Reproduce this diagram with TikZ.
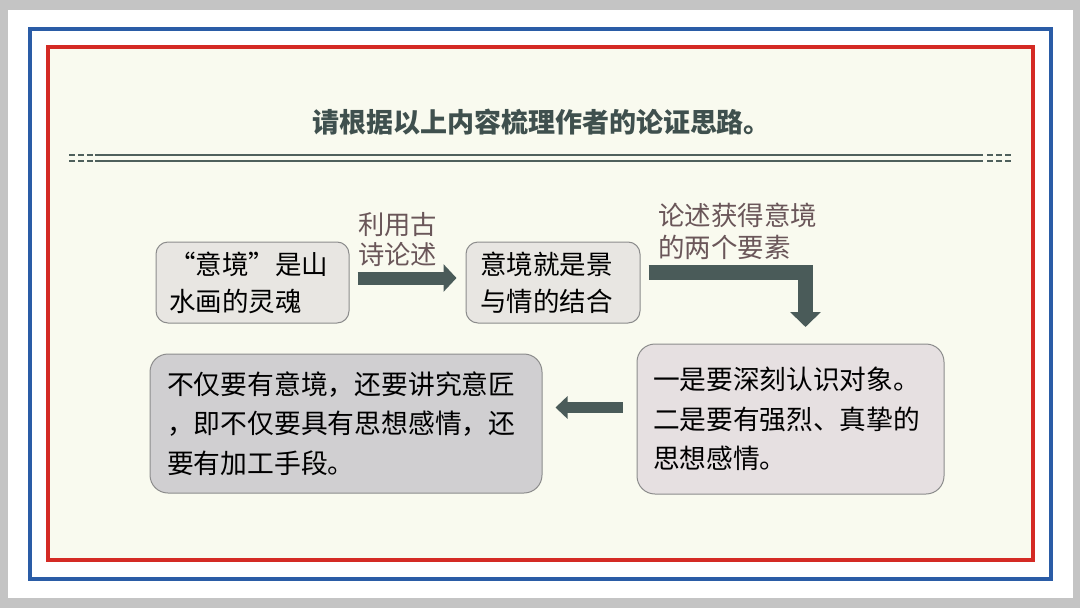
\documentclass[tikz,border=0pt]{standalone}
\usepackage{fontspec}
\newfontfamily\cjk{Noto Sans CJK SC}
\usetikzlibrary{arrows.meta}
\definecolor{shadowgray}{HTML}{C4C4C4}
\definecolor{blueframe}{HTML}{2A5CA6}
\definecolor{redframe}{HTML}{D42A24}
\definecolor{cream}{HTML}{F9FAEF}
\definecolor{titlec}{HTML}{3F504E}
\definecolor{rulec}{HTML}{4F605C}
\definecolor{arrowc}{HTML}{4A5B59}
\definecolor{labelc}{HTML}{6A5659}
\definecolor{boxline}{HTML}{8C8C8C}
\definecolor{fillA}{HTML}{E8E6E2}
\definecolor{fillB}{HTML}{E6E0E1}
\definecolor{fillC}{HTML}{D0CFD1}
\tikzset{
  box/.style={draw=boxline, line width=1, rounded corners=12, align=left,
    inner ysep=0, anchor=center, text=black},
  lab/.style={align=left, text=labelc, inner sep=0},
  bigarrow/.style={draw=arrowc, line join=miter},
  rulestyle/.style={draw=rulec, line width=2.2},
}
\begin{document}
\begin{tikzpicture}[x=1pt,y=-1pt]
\useasboundingbox (0,0) rectangle (1080,608);
\fill[shadowgray] (0,0) rectangle (1080,608);
\fill[white] (8,10) rectangle (1073,598);
\draw[blueframe, line width=4] (30,29) rectangle (1050.5,578.5);
\fill[cream] (48,47) rectangle (1033,559.5);
\draw[redframe, line width=4] (48,47) rectangle (1033,559.5);

\node[font=\cjk\bfseries\fontsize{27}{27}\selectfont, text=titlec] (title) at (541.5,122) {请根据以上内容梳理作者的论证思路。};

\draw[rulestyle] (95,155) -- (983,155);
\draw[rulestyle] (95,161) -- (983,161);
\draw[rulestyle, dash pattern=on 6 off 3] (69,155) -- (93,155);
\draw[rulestyle, dash pattern=on 6 off 3] (69,161) -- (93,161);
\draw[rulestyle, dash pattern=on 6 off 3] (987,155) -- (1011,155);
\draw[rulestyle, dash pattern=on 6 off 3] (987,161) -- (1011,161);

\node[box, fill=fillA, text width=167, inner xsep=13, minimum height=81,
  font=\cjk\fontsize{26.5}{37}\selectfont] (b1) at (252.5,282.5) {“意境”是山\\水画的灵魂};
\node[box, fill=fillA, text width=146, inner xsep=14, minimum height=81,
  font=\cjk\fontsize{26.5}{37}\selectfont] (b2) at (553,282.5) {意境就是景\\与情的结合};
\node[box, fill=fillB, rounded corners=18, text width=275, inner xsep=16, minimum height=150,
  font=\cjk\fontsize{26.7}{39.5}\selectfont] (b3) at (790.5,419) {一是要深刻认识对象。\\二是要有强烈、真挚的\\思想感情。};
\node[box, fill=fillC, rounded corners=18, text width=358, inner xsep=17, minimum height=139,
  font=\cjk\fontsize{26.8}{39.5}\selectfont] (b4) at (346,423.5) {不仅要有意境，还要讲究意匠\\，即不仅要具有思想感情，还\\要有加工手段。};

\node[lab, font=\cjk\fontsize{26.3}{30}\selectfont] (lab1) at (397.5,240) {利用古\\诗论述};
\node[lab, font=\cjk\fontsize{26.5}{32}\selectfont] (lab2) at (737.5,231) {论述获得意境\\的两个要素};

\coordinate (t2) at (805.5,327);
\draw[bigarrow, line width=13, -{Triangle[length=13pt,width=27pt]}]
  ([shift={(8,-4.5)}]b1.east) -- ([shift={(-9,-4.5)}]b2.west);
\draw[bigarrow, line width=15, -{Triangle[length=15pt,width=30pt]}]
  ([shift={(8,-10)}]b2.east) -| (t2);
\draw[bigarrow, line width=11, -{Triangle[length=12pt,width=22pt]}]
  ([shift={(-14,-11.5)}]b3.west) -- ([shift={(13,-16)}]b4.east);
\end{tikzpicture}
\end{document}
